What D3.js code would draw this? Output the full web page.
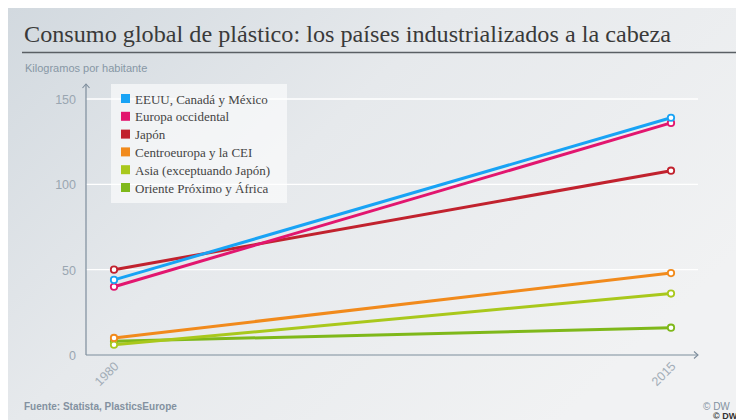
<!DOCTYPE html>
<html>
<head>
<meta charset="utf-8">
<script src="https://cdn.jsdelivr.net/npm/d3@7"></script>
<style>
body { margin: 0; background: #fff; }
svg { display: block; }
</style>
</head>
<body>
<script>
var years = ["1980", "2015"];
var seriesNames = ["EEUU, Canadá y México", "Europa occidental", "Japón", "Centroeuropa y la CEI", "Asia (exceptuando Japón)", "Oriente Próximo y África"];
var seriesColors = ["#18a3f5", "#e2166f", "#c1222e", "#f18a1c", "#a9c81c", "#7fb81a"];
var valuesEEUU = [44, 139];
var valuesEuropa = [40, 136];
var valuesJapon = [50, 108];
var valuesCentro = [10, 48];
var valuesAsia = [6, 36];
var valuesOriente = [8, 16];
var yTicks = [0, 50, 100, 150];

var allValues = [valuesEEUU, valuesEuropa, valuesJapon, valuesCentro, valuesAsia, valuesOriente];
var series = seriesNames.map(function(n, i) {
    return { name: n, color: seriesColors[i], values: allValues[i] };
});

var W = 736, H = 420;
var svg = d3.select("body").append("svg").attr("width", W).attr("height", H);

var defs = svg.append("defs");
var grad = defs.append("linearGradient").attr("id", "bg")
    .attr("x1", "0").attr("y1", "0").attr("x2", "1").attr("y2", "0.6");
grad.append("stop").attr("offset", "0%").attr("stop-color", "#d2d9df");
grad.append("stop").attr("offset", "45%").attr("stop-color", "#e6e9ec");
grad.append("stop").attr("offset", "100%").attr("stop-color", "#f1f2f3");

svg.append("rect").attr("x", 8).attr("y", 8).attr("width", W - 8).attr("height", H - 8).attr("fill", "url(#bg)");

// title
svg.append("text").attr("x", 24).attr("y", 42)
    .attr("font-family", "'Liberation Serif', 'DejaVu Serif', serif")
    .attr("font-size", 24).attr("fill", "#3a3a3a")
    .attr("textLength", 647).attr("lengthAdjust", "spacingAndGlyphs")
    .text("Consumo global de plástico: los países industrializados a la cabeza");
svg.append("line").attr("x1", 22).attr("x2", W).attr("y1", 52.5).attr("y2", 52.5)
    .attr("stroke", "#5a5f64").attr("stroke-width", 1.5);

svg.append("text").attr("x", 25).attr("y", 72)
    .attr("font-family", "'Liberation Sans', Arial, sans-serif")
    .attr("font-size", 11).attr("fill", "#8797a5")
    .text("Kilogramos por habitante");

var x0 = 86, x1 = 698, yTop = 99, yBot = 355;
var x = d3.scalePoint().domain(years).range([114, 671]);
var y = d3.scaleLinear().domain([0, 150]).range([yBot, yTop]);

// grid
svg.append("g").selectAll("line").data(yTicks.filter(function(d) { return d > 0; }))
    .enter().append("line")
    .attr("x1", x0).attr("x2", x1)
    .attr("y1", function(d) { return y(d); }).attr("y2", function(d) { return y(d); })
    .attr("stroke", "#ffffff").attr("stroke-width", 1.3);

// axes
var axisColor = "#7d8d9c";
svg.append("line").attr("x1", x0).attr("x2", x0).attr("y1", 84).attr("y2", yBot)
    .attr("stroke", axisColor).attr("stroke-width", 1.2);
svg.append("path").attr("d", "M" + (x0 - 3.5) + ",88 L" + x0 + ",84 L" + (x0 + 3.5) + ",88")
    .attr("fill", "none").attr("stroke", axisColor).attr("stroke-width", 1.1);
svg.append("line").attr("x1", x0).attr("x2", x1).attr("y1", yBot).attr("y2", yBot)
    .attr("stroke", axisColor).attr("stroke-width", 1.2);
svg.append("path").attr("d", "M" + (x1 - 4) + "," + (yBot - 3.5) + " L" + x1 + "," + yBot + " L" + (x1 - 4) + "," + (yBot + 3.5))
    .attr("fill", "none").attr("stroke", axisColor).attr("stroke-width", 1.1);

var yAxis = d3.axisLeft(y).tickValues(yTicks).tickSize(0).tickPadding(0);
var yg = svg.append("g").attr("transform", "translate(76,0)").call(yAxis);
yg.select(".domain").remove();
yg.selectAll("text").attr("font-family", "'Liberation Sans', Arial, sans-serif")
    .attr("font-size", 12.5).attr("fill", "#9aa6b1").attr("dy", "0.35em");

var xAxis = d3.axisBottom(x).tickSize(0).tickPadding(0);
var xg = svg.append("g").attr("transform", "translate(0," + yBot + ")").call(xAxis);
xg.select(".domain").remove();
xg.selectAll("text").attr("font-family", "'Liberation Sans', Arial, sans-serif")
    .attr("font-size", 12.5).attr("fill", "#a2adb7")
    .attr("text-anchor", "end").attr("dy", 0)
    .attr("transform", "translate(5,12) rotate(-45)");

// lines (draw bottom series first so top ones sit above)
var line = d3.line()
    .x(function(d, i) { return x(years[i]); })
    .y(function(d) { return y(d); });

var order = series.slice().reverse();
var sg = svg.append("g").selectAll("g").data(order).enter().append("g");
sg.append("path")
    .attr("d", function(d) { return line(d.values); })
    .attr("fill", "none")
    .attr("stroke", function(d) { return d.color; })
    .attr("stroke-width", 3);
sg.selectAll("circle").data(function(d) {
        return d.values.map(function(v, i) { return { v: v, i: i, color: d.color }; });
    })
    .enter().append("circle")
    .attr("cx", function(d) { return x(years[d.i]); })
    .attr("cy", function(d) { return y(d.v); })
    .attr("r", 3.2)
    .attr("fill", "#ffffff")
    .attr("stroke", function(d) { return d.color; })
    .attr("stroke-width", 1.8);

// legend
var legend = svg.append("g").attr("transform", "translate(111,84)");
legend.append("rect").attr("width", 176).attr("height", 119)
    .attr("fill", "#ffffff").attr("fill-opacity", 0.6);
var li = legend.selectAll(".legend").data(series).enter().append("g")
    .attr("class", "legend")
    .attr("transform", function(d, i) { return "translate(10," + (15 + i * 17.8) + ")"; });
li.append("rect").attr("x", 0).attr("y", -5).attr("width", 9).attr("height", 9)
    .attr("fill", function(d) { return d.color; });
li.append("text").attr("x", 14).attr("y", 0).attr("dy", "0.35em")
    .attr("font-family", "'Liberation Serif', 'DejaVu Serif', serif")
    .attr("font-size", 13).attr("fill", "#444")
    .text(function(d) { return d.name; });

// footer
svg.append("text").attr("x", 24).attr("y", 410)
    .attr("font-family", "'Liberation Sans', Arial, sans-serif")
    .attr("font-size", 10).attr("font-weight", "bold").attr("fill", "#8391a0")
    .text("Fuente: Statista, PlasticsEurope");
svg.append("text").attr("x", 703).attr("y", 410)
    .attr("font-family", "'Liberation Sans', Arial, sans-serif")
    .attr("font-size", 10).attr("fill", "#8391a0")
    .text("© DW");
svg.append("text").attr("x", 713).attr("y", 419)
    .attr("font-family", "'Liberation Sans', Arial, sans-serif")
    .attr("font-size", 9).attr("font-weight", "bold").attr("fill", "#333")
    .text("© DW");
</script>
</body>
</html>
